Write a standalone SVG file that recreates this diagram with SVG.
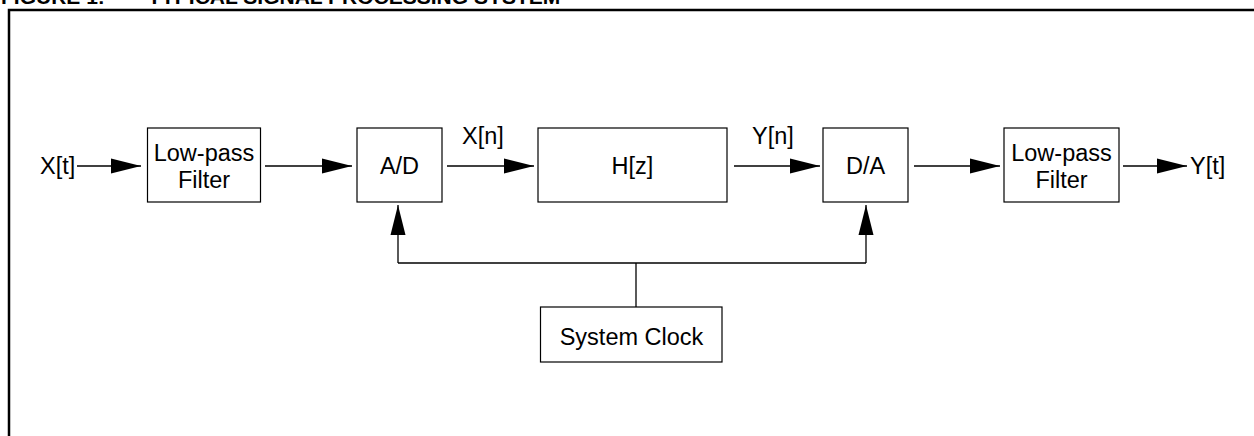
<svg xmlns="http://www.w3.org/2000/svg" width="1254" height="436" viewBox="0 0 1254 436">
<style>
  .box { fill: #fff; stroke: #000; stroke-width: 1.2; }
  .t { font-family: "Liberation Sans", Arial, sans-serif; font-size: 23.5px; fill: #000; text-anchor: middle; }
  .lbl { font-family: "Liberation Sans", Arial, sans-serif; font-size: 23.5px; fill: #000; }
  .title { font-family: "Liberation Sans", Arial, sans-serif; font-size: 21px; font-weight: bold; fill: #000; }
  .c { fill: none; stroke: #000; stroke-width: 1.3; }
</style>
<defs>
  <marker id="ah" markerUnits="userSpaceOnUse" markerWidth="30" markerHeight="16" refX="30" refY="8" orient="auto">
    <path d="M0,0.5 L30,8 L0,15.5 z" fill="#000"/>
  </marker>
</defs>
<rect width="1254" height="436" fill="#fff"/>
<g id="title">
  <text class="title" x="1" y="4">FIGURE 1:</text>
  <text class="title" x="148" y="4">TYPICAL SIGNAL PROCESSING SYSTEM</text>
</g>
<path id="frame" d="M9,436 V10 H1254" fill="none" stroke="#000" stroke-width="2.5"/>
<g id="connectors">
  <line class="c" x1="77" y1="166" x2="141" y2="166" marker-end="url(#ah)"/>
  <line class="c" x1="265" y1="166" x2="352" y2="166" marker-end="url(#ah)"/>
  <line class="c" x1="447" y1="166" x2="534" y2="166" marker-end="url(#ah)"/>
  <line class="c" x1="734" y1="166" x2="820" y2="166" marker-end="url(#ah)"/>
  <line class="c" x1="914" y1="166" x2="1000" y2="166" marker-end="url(#ah)"/>
  <line class="c" x1="1123" y1="166" x2="1187" y2="166" marker-end="url(#ah)"/>
  <line class="c" x1="636" y1="307" x2="636" y2="263"/>
  <line class="c" x1="398" y1="263" x2="866" y2="263"/>
  <line class="c" x1="398" y1="263" x2="398" y2="205" marker-end="url(#ah)"/>
  <line class="c" x1="866" y1="263" x2="866" y2="205" marker-end="url(#ah)"/>
</g>
<g id="labels">
  <text class="lbl" x="40" y="174">X[t]</text>
  <text class="lbl" x="462" y="144">X[n]</text>
  <text class="lbl" x="752" y="144">Y[n]</text>
  <text class="lbl" x="1190" y="174">Y[t]</text>
</g>
<g id="lpf1">
  <rect class="box" x="147.5" y="128" width="113" height="74"/>
  <text class="t" x="204" y="160.7">Low-pass</text>
  <text class="t" x="204" y="188.3">Filter</text>
</g>
<g id="ad">
  <rect class="box" x="357" y="128" width="85" height="74"/>
  <text class="t" x="399.5" y="173.5">A/D</text>
</g>
<g id="hz">
  <rect class="box" x="538" y="128" width="189" height="74"/>
  <text class="t" x="632.5" y="173.5">H[z]</text>
</g>
<g id="da">
  <rect class="box" x="823" y="128" width="85" height="74"/>
  <text class="t" x="865.5" y="173.5">D/A</text>
</g>
<g id="lpf2">
  <rect class="box" x="1004" y="128" width="115" height="74"/>
  <text class="t" x="1061.5" y="160.7">Low-pass</text>
  <text class="t" x="1061.5" y="188.3">Filter</text>
</g>
<g id="clock">
  <rect class="box" x="540.5" y="307" width="181.5" height="55"/>
  <text class="t" x="631.5" y="344.5">System Clock</text>
</g>
</svg>
